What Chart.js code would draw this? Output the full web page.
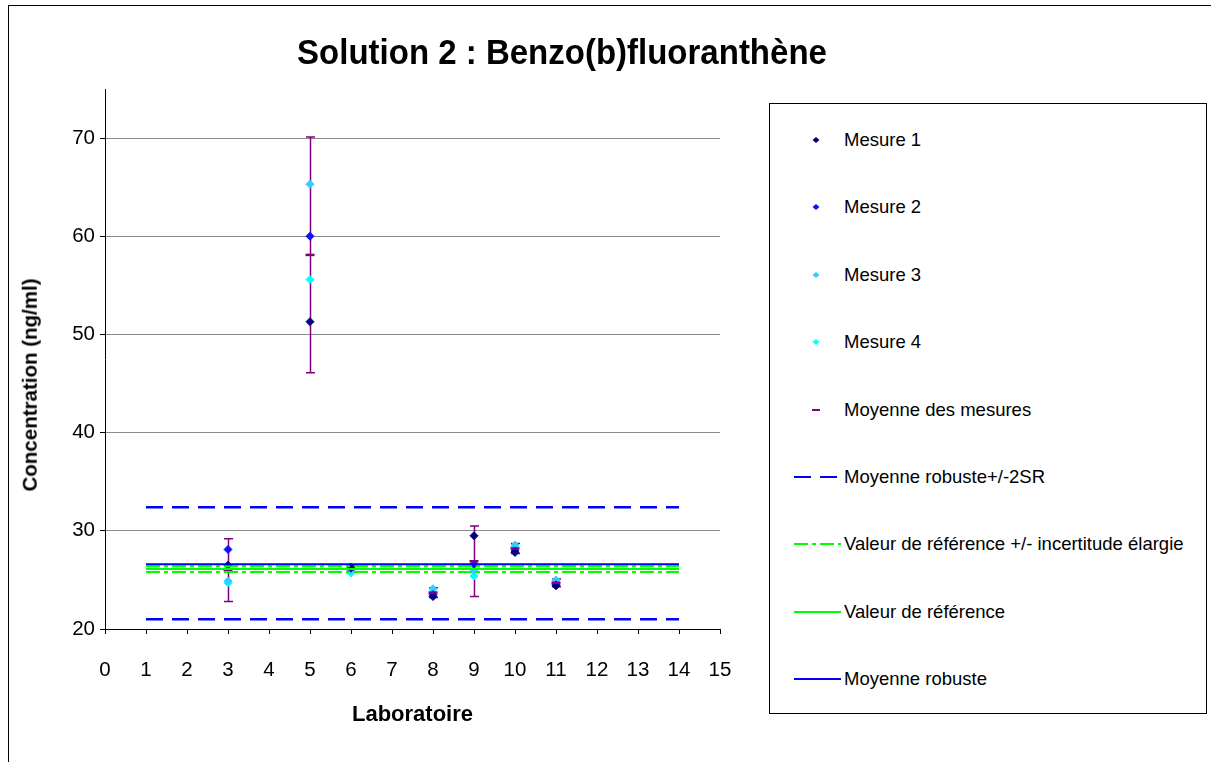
<!DOCTYPE html>
<html lang="fr">
<head>
<meta charset="utf-8">
<title>Solution 2 : Benzo(b)fluoranthène</title>
<script src="https://cdn.jsdelivr.net/npm/chart.js@4.4.1/dist/chart.umd.min.js"></script>
<style>
  html, body { margin: 0; padding: 0; background: #fff; }
  #wrap { position: relative; width: 1211px; height: 762px; overflow: hidden; font-family: "Liberation Sans", Arial, sans-serif; color: #000; }
  #frame { position: absolute; left: 8px; top: 5px; right: -4px; bottom: -4px; border-left: 1px solid #000; border-top: 1px solid #000; }
  #chart { position: absolute; left: 0; top: 0; }
  .title { position: absolute; left: 562px; top: 52px; transform: translate(-50%, -50%) scaleY(1.05); font-weight: bold; font-size: 33px; white-space: nowrap; line-height: 1; }
  .ytitle { position: absolute; left: 30px; top: 385px; transform: translate(-50%, -50%) rotate(-90deg); font-weight: bold; font-size: 20.5px; white-space: nowrap; line-height: 1; }
  #legend { position: absolute; left: 769px; top: 103px; width: 438px; height: 611px; border: 1px solid #000; box-sizing: border-box; background: #fff; }
  .item { position: absolute; left: 0; height: 20px; }
  .item svg { position: absolute; left: 23px; top: 5px; }
  .item span { position: absolute; left: 74px; top: 0px; font-size: 18.5px; white-space: nowrap; line-height: 20px; }
</style>
</head>
<body>
<div id="wrap">
  <div id="frame"></div>
  <canvas id="chart" width="1211" height="762"></canvas>
  <div class="title">Solution 2 : Benzo(b)fluoranthène</div>
  <div class="ytitle">Concentration (ng/ml)</div>
  <div id="legend"></div>
</div>
<script>
// ─── Data ─────────────────────────────────────────────────────────────────────
const labs     = [3, 5, 6, 8, 9, 10, 11];
const mesure1  = [26.5, 51.3, 26.3, 23.3, 29.5, 27.8, 24.4];
const mesure2  = [28.1, 60.0, 26.2, 23.5, 26.6, 27.95, 24.5];
const mesure3  = [24.9, 65.3, 26.0, 24.1, 26.0, 28.55, 25.0];
const mesure4  = [24.7, 55.6, 25.7, 23.8, 25.4, 28.4, 24.8];
const moyenne  = [26.0, 58.1, 26.1, 23.7, 26.9, 28.2, 24.7];
const ecart    = [3.2, 12.0, 0.3, 0.5, 3.6, 0.5, 0.4];   // demi-largeur des barres d'erreur

const lineX            = [1, 14];
const robusteHaut      = [32.4, 32.4];
const robusteBas       = [21.0, 21.0];
const refHaut          = [26.4, 26.4];
const refBas           = [25.8, 25.8];
const valeurRef        = [26.1, 26.1];
const moyenneRobuste   = [26.6, 26.6];

const xTicks = [0, 1, 2, 3, 4, 5, 6, 7, 8, 9, 10, 11, 12, 13, 14, 15];
const yTicks = [20, 30, 40, 50, 60, 70];

const FONT = '"Liberation Sans", Arial, sans-serif';
const pts = arr => labs.map((x, i) => ({ x, y: arr[i] }));
const seg = arr => lineX.map((x, i) => ({ x, y: arr[i] }));

// ─── Datasets ─────────────────────────────────────────────────────────────────
const markerSet = (label, data, color) => ({
  label, data: pts(data), showLine: false, order: 10,
  pointStyle: 'rectRot', pointRadius: 4, pointHoverRadius: 4,
  backgroundColor: color, borderColor: color, borderWidth: 1,
});
const lineSet = (label, data, color, dash, width, order) => ({
  label, data: seg(data), showLine: true, order,
  borderColor: color, borderWidth: width, borderDash: dash, pointRadius: 0, fill: false,
});

const datasets = [
  markerSet('Mesure 1', mesure1, '#000080'),
  markerSet('Mesure 2', mesure2, '#1010ff'),
  markerSet('Mesure 3', mesure3, '#33ccff'),
  markerSet('Mesure 4', mesure4, '#00ffff'),
  {
    label: 'Moyenne des mesures', data: pts(moyenne), showLine: false, order: 9,
    pointStyle: 'line', pointRadius: 4.5, pointHoverRadius: 4.5,
    borderColor: '#800080', borderWidth: 2.5,
  },
  lineSet('Moyenne robuste+/-2SR', robusteHaut, '#0000ff', [17, 9], 2.5, 4),
  lineSet('Moyenne robuste+/-2SR', robusteBas, '#0000ff', [17, 9], 2.5, 4),
  lineSet('Valeur de référence +/- incertitude élargie', refHaut, '#00ff00', [14, 4, 4, 4], 2, 3),
  lineSet('Valeur de référence +/- incertitude élargie', refBas, '#00ff00', [14, 4, 4, 4], 2, 3),
  lineSet('Valeur de référence', valeurRef, '#00ff00', [], 2, 2),
  lineSet('Moyenne robuste', moyenneRobuste, '#0000ff', [], 2, 1),
];

// ─── Error bars ───────────────────────────────────────────────────────────────
const errorBars = {
  id: 'errorBars',
  beforeDatasetsDraw(chart) {
    const { ctx, scales: { x, y } } = chart;
    ctx.save();
    ctx.strokeStyle = '#800080';
    ctx.lineWidth = 1.5;
    labs.forEach((lab, i) => {
      const px = Math.round(x.getPixelForValue(lab)) + 0.5;
      const top = y.getPixelForValue(moyenne[i] + ecart[i]);
      const bot = y.getPixelForValue(moyenne[i] - ecart[i]);
      ctx.beginPath();
      ctx.moveTo(px, top); ctx.lineTo(px, bot);
      ctx.moveTo(px - 4.5, top); ctx.lineTo(px + 4.5, top);
      ctx.moveTo(px - 4.5, bot); ctx.lineTo(px + 4.5, bot);
      ctx.stroke();
    });
    ctx.restore();
  },
};

// ─── Chart ────────────────────────────────────────────────────────────────────
const chart = new Chart(document.getElementById('chart').getContext('2d'), {
  type: 'scatter',
  data: { datasets },
  plugins: [errorBars],
  options: {
    responsive: false, animation: false,
    layout: { padding: { top: 89, right: 491, bottom: 0, left: 0 } },
    plugins: { legend: { display: false }, tooltip: { enabled: false }, title: { display: false } },
    scales: {
      x: {
        type: 'linear', min: 0, max: 15,
        afterBuildTicks: a => { a.ticks = xTicks.map(v => ({ value: v })); },
        afterFit: a => { a.height = 133; },
        border: { color: '#000', width: 1 },
        grid: { drawOnChartArea: false, tickColor: '#000', tickLength: 5 },
        ticks: { color: '#000', font: { family: FONT, size: 20.5 }, padding: 24, maxRotation: 0, autoSkip: false },
        title: { display: true, text: 'Laboratoire', color: '#000', font: { family: FONT, size: 22, weight: 'bold' }, padding: { top: 0, bottom: 34 } },
      },
      y: {
        type: 'linear', min: 20, max: 75,
        afterBuildTicks: a => { a.ticks = yTicks.map(v => ({ value: v })); },
        afterFit: a => { a.width = 105; },
        border: { color: '#000', width: 1 },
        grid: { color: '#8c8c8c', tickColor: '#000', tickLength: 5, lineWidth: 1 },
        ticks: { color: '#000', font: { family: FONT, size: 20.5 }, padding: 5 },
      },
    },
  },
});

// ─── Legend (HTML) ────────────────────────────────────────────────────────────
const legendBox = document.getElementById('legend');
const seen = new Set();
let row = 0;
datasets.forEach(ds => {
  if (seen.has(ds.label)) return;
  seen.add(ds.label);
  let sym;
  if (!ds.showLine && ds.pointStyle === 'rectRot') {
    sym = `<polygon points="23,2 26.5,5 23,8 19.5,5" fill="${ds.backgroundColor}"/>`;
  } else if (!ds.showLine) {
    sym = `<line x1="19" y1="5" x2="27" y2="5" stroke="${ds.borderColor}" stroke-width="2"/>`;
  } else {
    const dash = ds.borderDash.length ? `stroke-dasharray="${ds.borderDash.join(' ')}"` : '';
    sym = `<line x1="1" y1="5" x2="48" y2="5" stroke="${ds.borderColor}" stroke-width="2" ${dash}/>`;
  }
  const div = document.createElement('div');
  div.className = 'item';
  div.style.top = (26 + row * 67.4) + 'px';
  div.innerHTML = `<svg width="50" height="10">${sym}</svg><span>${ds.label}</span>`;
  legendBox.appendChild(div);
  row++;
});
</script>
</body>
</html>
